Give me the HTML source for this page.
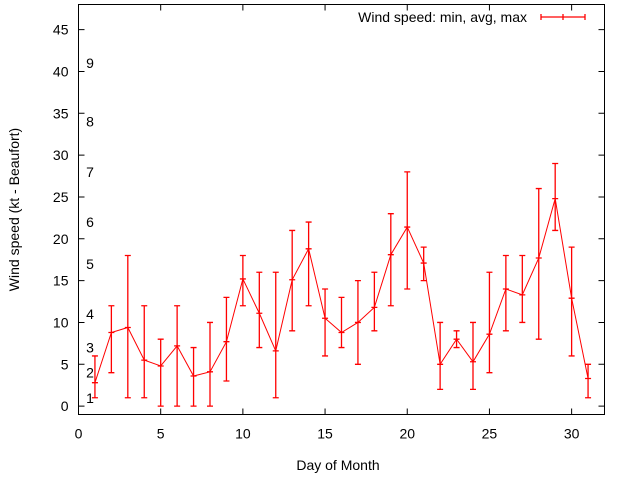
<!DOCTYPE html>
<html><head><meta charset="utf-8"><style>body{margin:0;background:#fff}svg{display:block;font-family:"Liberation Sans",sans-serif}</style></head>
<body>
<svg id="c" width="640" height="480"></svg>
<script>
const days=[1,2,3,4,5,6,7,8,9,10,11,12,13,14,15,16,17,18,19,20,21,22,23,24,25,26,27,28,29,30,31];
const avgs=[2.8,8.8,9.4,5.5,4.8,7.2,3.6,4.1,7.7,15.2,11.1,6.6,15.1,18.8,10.5,8.8,10,11.8,18.1,21.4,17.1,5,8,5.3,8.6,14,13.3,17.7,24.8,12.9,3.3];
const mins=[1,4,1,1,0,0,0,0,3,12,7,1,9,12,6,7,5,9,12,14,15,2,7,2,4,9,10,8,21,6,1];
const maxs=[6,12,18,12,8,12,7,10,13,18,16,16,21,22,14,13,15,16,23,28,19,10,9,10,16,18,18,26,29,19,5];
const xTicks=[0,5,10,15,20,25,30];
const yTicks=[0,5,10,15,20,25,30,35,40,45];
const beaufortKt=[1,4,7,11,17,22,28,34,41];
const beaufortLbl=["1","2","3","4","5","6","7","8","9"];
const L=78.5,R=604.5,T=4.5,B=414.5,X0=0,X1=32,Y0=-1,Y1=48;
const sx=v=>L+(v-X0)/(X1-X0)*(R-L);
const sy=v=>B-(v-Y0)/(Y1-Y0)*(B-T);
const svg=document.getElementById('c');
const NS='http://www.w3.org/2000/svg';
function mk(t,a,p){const e=document.createElementNS(NS,t);for(const k in a)e.setAttribute(k,a[k]);(p||svg).appendChild(e);return e;}
function txt(x,y,s,anchor,name){const e=mk('text',{x:x,y:y,'font-size':14,fill:'#000','text-anchor':anchor});e.textContent=s;

return e;}
xTicks.forEach(v=>{const x=sx(v);
 const t=mk('path',{d:`M${x},${B}v-6M${x},${T}v6`,stroke:'#000','stroke-width':1});
 
 
 txt(x,B+24,String(v),'middle','x-tick-label');});
yTicks.forEach(v=>{const y=sy(v);
 const t=mk('path',{d:`M${L},${y}h6M${R},${y}h-6`,stroke:'#000','stroke-width':1});
 
 
 txt(L-10,y+5,String(v),'end','y-tick-label');});
beaufortKt.forEach((v,i)=>{txt(90,sy(v)+5,beaufortLbl[i],'middle','beaufort-label');});
const box=mk('rect',{x:L,y:T,width:R-L,height:B-T,fill:'none',stroke:'#000','stroke-width':1});


txt(338,470,'Day of Month','middle','x-axis-title');
const yt=txt(0,0,'Wind speed (kt - Beaufort)','middle','y-axis-title');
yt.setAttribute('transform',`translate(19,${(T+B)/2}) rotate(-90)`);
const line=mk('polyline',{points:days.map((d,i)=>sx(d)+','+sy(avgs[i])).join(' '),fill:'none',stroke:'#f00','stroke-width':1});


days.forEach((d,i)=>{const x=sx(d),y1=sy(mins[i]),y2=sy(maxs[i]),ya=sy(avgs[i]);
 const e=mk('path',{d:`M${x},${y1}V${y2}M${x-3},${y1}h6M${x-3},${y2}h6M${x-3},${ya}h6`,stroke:'#f00','stroke-width':1.3,fill:'none'});
 
 });
txt(527,22,'Wind speed: min, avg, max','end','legend-label');
const lg=mk('path',{d:'M541,17h44M541,14v6M585,14v6M563,14v6',stroke:'#f00','stroke-width':1.3});


</script>
</body></html>
